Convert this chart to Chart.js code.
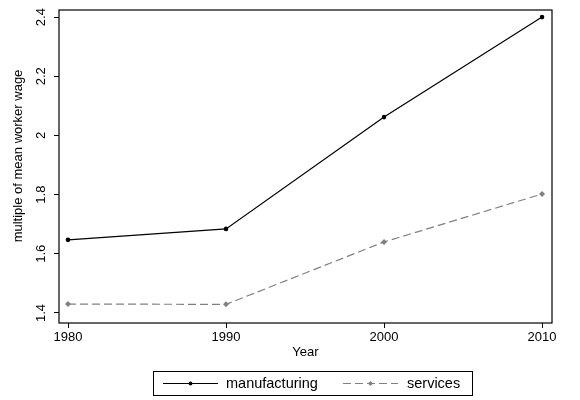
<!DOCTYPE html>
<html>
<head>
<meta charset="utf-8">
<script src="https://cdn.jsdelivr.net/npm/chart.js@4"></script>
<style>
  body { margin: 0; background: #fff; }
  #wrap { width: 580px; height: 400px; }
</style>
</head>
<body>
<div id="wrap"><canvas id="wageChart"></canvas></div>
<script>
// DATA
const years = [1980, 1990, 2000, 2010];
const manufacturing = [1.647, 1.684, 2.062, 2.400];
const services = [1.430, 1.429, 1.640, 1.802];
const yTicks = [1.4, 1.6, 1.8, 2.0, 2.2, 2.4];
const xTicks = [1980, 1990, 2000, 2010];
const yTitle = "multiple of mean worker wage";

const FONT = "'Liberation Sans', Arial, sans-serif";

// frame, rotated y labels, y title and legend box drawn by hand (Stata look)
const stataBits = {
    id: "stataBits",
    afterDraw(chart) {
        const ctx = chart.ctx;
        const a = chart.chartArea;
        const yScale = chart.scales.y;
        ctx.save();
        ctx.strokeStyle = "#000";
        ctx.lineWidth = 1.2;
        ctx.strokeRect(a.left, a.top, a.right - a.left, a.bottom - a.top);

        // rotated y tick labels
        ctx.fillStyle = "#000";
        ctx.font = "13px " + FONT;
        ctx.textAlign = "center";
        ctx.textBaseline = "middle";
        yTicks.forEach(v => {
            const py = yScale.getPixelForValue(v);
            ctx.save();
            ctx.translate(41, py);
            ctx.rotate(-Math.PI / 2);
            ctx.fillText(String(Math.round(v * 10) / 10), 0, 0);
            ctx.restore();
        });

        // y title
        ctx.save();
        ctx.translate(18, 156);
        ctx.rotate(-Math.PI / 2);
        ctx.fillText(yTitle, 0, 0);
        ctx.restore();

        // legend
        const bx = 153, by = 371, bw = 319, bh = 24;
        ctx.lineWidth = 1;
        ctx.strokeRect(bx + 0.5, by + 0.5, bw, bh);
        const cy = by + bh / 2 + 0.5;
        const items = [
            { ds: chart.data.datasets[0], x0: 163, x1: 218, tx: 226 },
            { ds: chart.data.datasets[1], x0: 343, x1: 398, tx: 407 }
        ];
        ctx.textAlign = "left";
        ctx.font = "14.5px " + FONT;
        items.forEach(it => {
            ctx.strokeStyle = it.ds.borderColor;
            ctx.lineWidth = it.ds.borderWidth;
            ctx.setLineDash(it.ds.borderDash || []);
            ctx.beginPath();
            ctx.moveTo(it.x0, cy);
            ctx.lineTo(it.x1, cy);
            ctx.stroke();
            ctx.setLineDash([]);
            ctx.fillStyle = it.ds.backgroundColor;
            Chart.helpers.drawPoint(ctx, {
                pointStyle: it.ds.pointStyle,
                radius: it.ds.pointRadius * 0.85,
                borderWidth: 0
            }, (it.x0 + it.x1) / 2, cy);
            ctx.fillStyle = "#000";
            ctx.fillText(it.ds.label, it.tx, cy);
        });
        ctx.restore();
    }
};

const ctx = document.getElementById("wageChart").getContext("2d");
new Chart(ctx, {
    type: "line",
    data: {
        datasets: [
            {
                label: "manufacturing",
                data: years.map((y, i) => ({ x: y, y: manufacturing[i] })),
                borderColor: "#000",
                backgroundColor: "#000",
                borderWidth: 1.2,
                pointRadius: 2.3,
                pointStyle: "circle",
                pointBorderWidth: 0,
                tension: 0
            },
            {
                label: "services",
                data: years.map((y, i) => ({ x: y, y: services[i] })),
                borderColor: "#808080",
                backgroundColor: "#808080",
                borderWidth: 1.2,
                borderDash: [8, 4],
                pointRadius: 3,
                pointStyle: "rectRot",
                pointBorderWidth: 0,
                tension: 0
            }
        ]
    },
    options: {
        responsive: true,
        maintainAspectRatio: false,
        animation: false,
        layout: { padding: { left: 0, right: 28, top: 10, bottom: 40 } },
        plugins: {
            legend: { display: false },
            tooltip: { enabled: false }
        },
        scales: {
            x: {
                type: "linear",
                min: 1979.43,
                max: 2010.63,
                afterBuildTicks: s => { s.ticks = xTicks.map(v => ({ value: v })); },
                afterFit: s => { s.height = 37; },
                grid: { drawOnChartArea: false, tickLength: 5, color: "#000", tickColor: "#000" },
                border: { display: false },
                ticks: {
                    color: "#000",
                    padding: 2,
                    maxRotation: 0,
                    font: { family: FONT, size: 13 },
                    callback: v => String(v)
                },
                title: { display: true, text: "Year", color: "#000", padding: 0, font: { family: FONT, size: 13 } }
            },
            y: {
                min: 1.366,
                max: 2.424,
                afterBuildTicks: s => { s.ticks = yTicks.map(v => ({ value: v })); },
                afterFit: s => { s.width = 59; },
                grid: { drawOnChartArea: false, tickLength: 5, color: "#000", tickColor: "#000" },
                border: { display: false },
                ticks: { display: false }
            }
        }
    },
    plugins: [stataBits]
});
</script>
</body>
</html>
